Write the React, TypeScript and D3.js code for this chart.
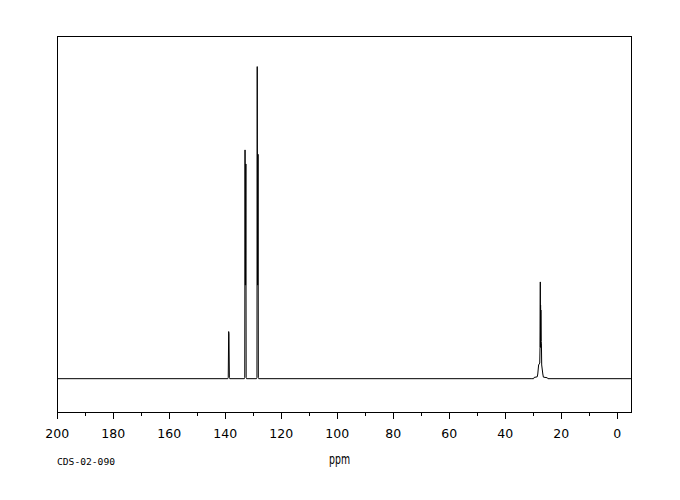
import React from "react";
import * as d3 from "d3";

// Spectrum trace points: [ppm, relative intensity]
const spectrumPpm: number[] = [
  200, 139.1, 138.95, 138.8, 138.7, 138.55, 138.4,
  133.2, 133.05, 132.95, 132.85, 132.75, 132.65, 132.55, 132.4,
  128.85, 128.7, 128.6, 128.5, 128.4, 128.3, 128.2, 128.05,
  30.5, 29.9, 29.7, 28.6, 28.4, 28.1, 27.7, 27.6, 27.5, 27.45, 27.4, 27.35, 27.3, 27.2, 27.1, 27.0, 26.6, 26.4, 25.0, 24.8,
  -5,
];
const spectrumInt: number[] = [
  0, 0, 0.4, 15.1, 14.5, 0.4, 0,
  0, 0.4, 73.3, 30, 30, 68.8, 0.4, 0,
  0, 0.4, 100, 30, 30, 71.9, 0.4, 0,
  0, 0, 0.4, 0.6, 1.5, 4.4, 5, 10, 31, 10, 23.6, 12, 22, 12, 11.4, 4.4, 1.5, 0.5, 0.3, 0,
  0,
];

const xTickMajor: number[] = [200, 180, 160, 140, 120, 100, 80, 60, 40, 20, 0];
const xTickMinor: number[] = [190, 170, 150, 130, 110, 90, 70, 50, 30, 10];
const xLabel = "ppm";
const codeLabel = "CDS-02-090";

export default function App() {
  const W = 680, H = 500;
  const left = 57.3, right = 631.3, top = 36, bottom = 412.3;
  const x = d3.scaleLinear().domain([200, -5]).range([left, right]);
  const y = d3.scaleLinear().domain([-10.77, 109.8]).range([bottom, top]);

  const pts: [number, number][] = spectrumPpm.map((p, i) => [p, spectrumInt[i] ?? 0]);
  const line = d3
    .line<[number, number]>()
    .x((d) => x(d[0]))
    .y((d) => y(d[1]));

  const fontTicks = "'DejaVu Sans', sans-serif";

  return (
    <svg
      width={W}
      height={H}
      style={{ position: "absolute", left: 0, top: 0, background: "#fff" }}
    >
      <rect x={0} y={0} width={W} height={H} fill="#fff" />
      <rect
        x={left}
        y={top}
        width={right - left}
        height={bottom - top}
        fill="none"
        stroke="#000"
        strokeWidth={1}
        shapeRendering="crispEdges"
      />
      <path
        d={line(pts) || ""}
        fill="none"
        stroke="#000"
        strokeWidth={1}
        strokeLinejoin="miter"
      />
      {xTickMajor.map((t) => (
        <g key={"M" + t}>
          <line
            x1={x(t)}
            x2={x(t)}
            y1={bottom}
            y2={bottom + 7}
            stroke="#000"
            shapeRendering="crispEdges"
          />
          <text
            x={x(t)}
            y={437.7}
            textAnchor="middle"
            fontFamily={fontTicks}
            fontSize={12.5}
            fill="#000"
          >
            {t}
          </text>
        </g>
      ))}
      {xTickMinor.map((t) => (
        <line
          key={"m" + t}
          x1={x(t)}
          x2={x(t)}
          y1={bottom}
          y2={bottom + 4}
          stroke="#000"
          shapeRendering="crispEdges"
        />
      ))}
      <text
        x={339.5}
        y={464}
        textAnchor="middle"
        fontFamily={fontTicks}
        fontSize={14}
        textLength={21}
        lengthAdjust="spacingAndGlyphs"
        fill="#000"
      >
        {xLabel}
      </text>
      <text
        x={57}
        y={465}
        fontFamily="'DejaVu Sans Mono', monospace"
        fontSize={9}
        textLength={58}
        lengthAdjust="spacingAndGlyphs"
        fill="#000"
      >
        {codeLabel}
      </text>
    </svg>
  );
}
